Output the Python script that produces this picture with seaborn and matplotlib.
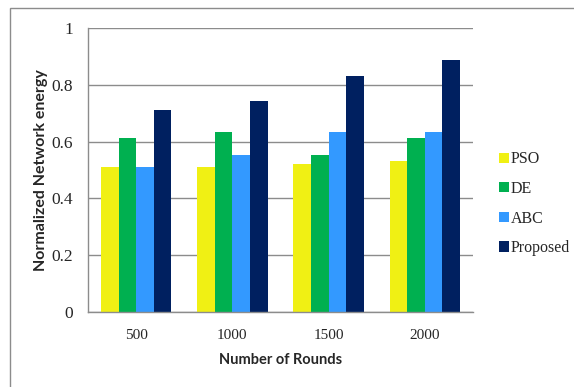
import matplotlib
matplotlib.use("Agg")
import matplotlib.pyplot as plt
from matplotlib.patches import Rectangle, Patch
import seaborn as sns
import pandas as pd

rounds = ["500", "1000", "1500", "2000"]
methods = ["PSO", "DE", "ABC", "Proposed"]
pso = [0.512, 0.512, 0.521, 0.533]
de = [0.611, 0.633, 0.553, 0.614]
abc = [0.512, 0.553, 0.633, 0.635]
proposed = [0.710, 0.743, 0.831, 0.887]
colors = ["#F0F014", "#00B050", "#3399FF", "#002060"]
yticks = [0, 0.2, 0.4, 0.6, 0.8, 1]

rows = []
for name, vals in zip(methods, [pso, de, abc, proposed]):
    for r, v in zip(rounds, vals):
        rows.append({"Rounds": r, "Method": name, "Energy": v})
df = pd.DataFrame(rows)

sns.set_style("white")
fig = plt.figure(figsize=(5.74, 3.87), dpi=100)
ax = fig.add_axes([88 / 574, 1 - 312 / 387, (473 - 88) / 574, (312 - 28) / 387])

# outer chart frame
fig.patches.append(Rectangle((10 / 574, -0.1), 1.2, 1 - 8 / 387 + 0.1,
                             transform=fig.transFigure, fill=False,
                             edgecolor="#8c8c8c", linewidth=1.0))

sns.barplot(data=df, x="Rounds", y="Energy", hue="Method", order=rounds,
            hue_order=methods, palette=colors, saturation=1, width=0.73, gap=0,
            linewidth=0, ax=ax, legend=False)

ax.set_xlim(-0.5, 3.5)
ax.set_ylim(0, 1)
ax.set_yticks(yticks)
ax.set_yticklabels([f"{t:g}" for t in yticks], family="Liberation Serif", fontsize=12.5)
ax.set_xticks(range(len(rounds)))
ax.set_xticklabels(rounds, family="Liberation Serif", fontsize=11)
ax.set_xticks([-0.5, 0.5, 1.5, 2.5, 3.5], minor=True)
ax.tick_params(axis="x", which="major", length=0, pad=12)
ax.tick_params(axis="x", which="minor", length=5, color="#8c8c8c", width=1)
ax.tick_params(axis="y", which="major", length=5, color="#8c8c8c", width=1, pad=6)
ax.yaxis.grid(True, color="#8c8c8c", linewidth=1)
ax.set_axisbelow(True)
for s in ["top", "right"]:
    ax.spines[s].set_visible(False)
for s in ["left", "bottom"]:
    ax.spines[s].set_color("#8c8c8c")
    ax.spines[s].set_linewidth(1)

ax.set_xlabel("Number of Rounds", family="Lato", fontweight="bold", fontsize=10.5, labelpad=8)
ax.set_ylabel("Normalized Network energy", family="Lato", fontweight="bold", fontsize=11.5, labelpad=2)

handles = [Patch(facecolor=c, edgecolor="none") for c in colors]
leg = fig.legend(handles, methods, loc="upper left",
                 bbox_to_anchor=(485 / 574, 1 - 137 / 387),
                 frameon=False, handlelength=0.6, handleheight=0.6,
                 handletextpad=0.1, labelspacing=0.85,
                 prop={"family": "Liberation Serif", "size": 11.5})

fig.savefig("out.png", dpi=100)
